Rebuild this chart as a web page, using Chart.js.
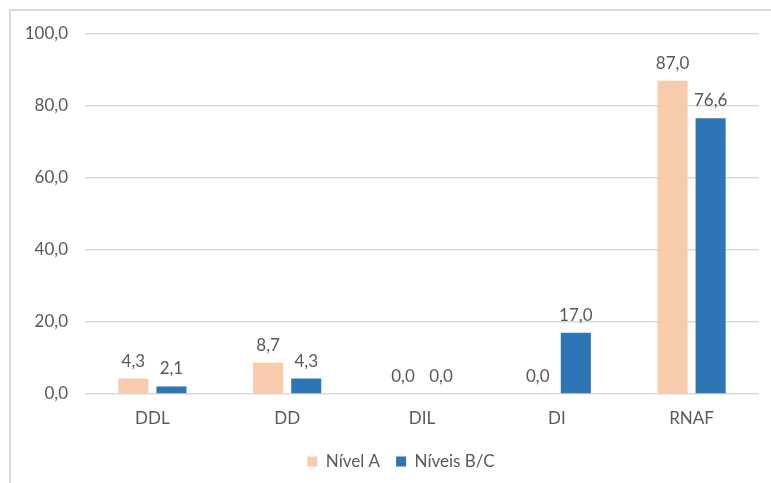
<!DOCTYPE html>
<html>
<head>
<meta charset="utf-8">
<script src="https://cdn.jsdelivr.net/npm/chart.js@4/dist/chart.umd.min.js"></script>
<style>
  html, body { margin: 0; padding: 0; background: #ffffff; }
  #wrap { position: relative; width: 771px; height: 483px; overflow: hidden; }
  #frame { position: absolute; left: 9px; top: 9px; width: 800px; height: 520px; border: 2px solid #d9d9d9; box-sizing: border-box; }
  canvas { position: absolute; left: 0; top: 0; }
</style>
</head>
<body>
<div id="wrap">
  <div id="frame"></div>
  <canvas id="chart" width="771" height="483"></canvas>
</div>
<script>
const categories = ['DDL', 'DD', 'DIL', 'DI', 'RNAF'];
const nivelA = [4.3, 8.7, 0.0, 0.0, 87.0];
const niveisBC = [2.1, 4.3, 0.0, 17.0, 76.6];
const seriesNames = ['Nível A', 'Níveis B/C'];
const yTicks = [0, 20, 40, 60, 80, 100];

const TEXT = '#595959';
const FONT = 'Lato, "Open Sans", sans-serif';
const SIZE = 17;
const LEGEND_CENTER_X = 401;
const fmt = v => v.toFixed(1).replace('.', ',');

// Value labels written above each bar
const valueLabels = {
  id: 'valueLabels',
  afterDatasetsDraw(chart) {
    const ctx = chart.ctx;
    ctx.save();
    ctx.font = SIZE + 'px ' + FONT;
    ctx.fillStyle = TEXT;
    ctx.textAlign = 'center';
    ctx.textBaseline = 'alphabetic';
    chart.data.datasets.forEach((ds, di) => {
      chart.getDatasetMeta(di).data.forEach((bar, i) => {
        ctx.fillText(fmt(ds.data[i]), bar.x, bar.y - 12);
      });
    });
    ctx.restore();
  }
};

// Move the legend box so its items sit around LEGEND_CENTER_X
const legendPlacement = {
  id: 'legendPlacement',
  afterLayout(chart) {
    const lg = chart.legend;
    if (!lg) return;
    const shift = LEGEND_CENTER_X - (lg.left + lg.right) / 2;
    lg.left += shift;
    lg.right += shift;
  }
};

new Chart(document.getElementById('chart'), {
  type: 'bar',
  data: {
    labels: categories,
    datasets: [
      { label: seriesNames[0], data: nivelA, backgroundColor: '#f8cbad', borderWidth: 0 },
      { label: seriesNames[1], data: niveisBC, backgroundColor: '#2e75b6', borderWidth: 0 }
    ]
  },
  options: {
    responsive: false,
    animation: false,
    events: [],
    datasets: { bar: { categoryPercentage: 0.565, barPercentage: 0.79 } },
    layout: { padding: { left: 0, top: 34, right: 12, bottom: 3 } },
    scales: {
      x: {
        grid: { display: false, drawTicks: false },
        border: { display: false },
        ticks: { color: TEXT, font: { family: FONT, size: SIZE }, padding: 14 },
        afterFit(scale) { scale.height = 43; }
      },
      y: {
        min: 0,
        max: 100,
        afterBuildTicks(scale) { scale.ticks = yTicks.map(v => ({ value: v })); },
        grid: { color: '#d9d9d9', lineWidth: 1.5, drawTicks: false },
        border: { display: false },
        ticks: { color: TEXT, font: { family: FONT, size: SIZE }, padding: 17, callback: v => fmt(v) },
        afterFit(scale) { scale.width = 85; }
      }
    },
    plugins: {
      legend: {
        position: 'bottom',
        labels: { color: TEXT, font: { family: FONT, size: SIZE }, boxWidth: 10, boxHeight: 10, padding: 16 }
      },
      tooltip: { enabled: false }
    }
  },
  plugins: [valueLabels, legendPlacement]
});
</script>
</body>
</html>
